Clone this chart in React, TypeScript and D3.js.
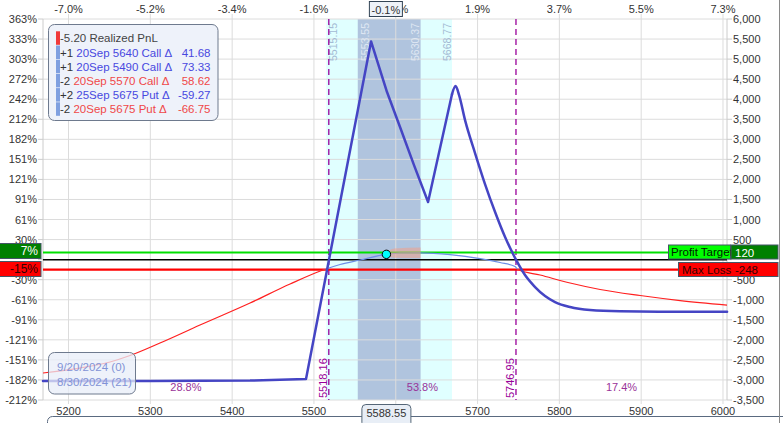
import React from 'react';
import * as d3 from 'd3';

const W = 783;
const H = 423;

// ---- data ----
const priceTicks = [5200, 5300, 5400, 5500, 5600, 5700, 5800, 5900, 6000];
const priceTickLabels = ['5200', '5300', '5400', '5500', '', '5700', '5800', '5900', '6000'];
const topTickLabels = ['-7.0%', '-5.2%', '-3.4%', '-1.6%', '0.1%', '1.9%', '3.7%', '5.5%', '7.3%'];
const pnlTicks = [-3500, -3000, -2500, -2000, -1500, -1000, -500, 0, 500, 1000, 1500, 2000, 2500, 3000, 3500, 4000, 4500, 5000, 5500, 6000];
const pnlTickLabels = ['-3,500', '-3,000', '-2,500', '-2,000', '-1,500', '-1,000', '-500', '', '500', '1,000', '1,500', '2,000', '2,500', '3,000', '3,500', '4,000', '4,500', '5,000', '5,500', '6,000'];
const pctTickLabels = ['-212%', '-182%', '-151%', '-121%', '-91%', '-61%', '-30%', '', '30%', '61%', '91%', '121%', '151%', '182%', '212%', '242%', '272%', '303%', '333%', '363%'];

// expiration P&L (9/20/2024): sharp part
const expPrices = [5168.8, 5299.6, 5421.9, 5490.3, 5569.8, 5589.3, 5605.2, 5622.3, 5639.5, 5668.8];
const expValues = [-3027, -3027, -3015, -2977, 5440, 4179, 3306, 2358, 1436, 4128];
// expiration P&L: smooth tail after the second peak
const expTailPrices = [5668.8, 5673.1, 5677.4, 5684.7, 5696.9, 5709.1, 5721.4, 5733.6, 5746.95, 5758.0, 5770.3, 5782.5, 5794.7, 5813.1, 5837.5, 5874.2, 5923.1, 6005];
const expTailValues = [4128, 4327, 4103, 3480, 2658, 1885, 1187, 564, 0, -384, -683, -907, -1057, -1182, -1257, -1289, -1297, -1297];

// T+21 P&L (8/30/2024)
const t21Prices = [5168.8, 5214.0, 5250.7, 5275.2, 5311.8, 5360.7, 5421.9, 5470.8, 5511.1, 5531.9, 5556.3, 5588.55, 5605.2, 5629.7, 5666.3, 5703.0, 5727.5, 5745.8, 5749.5, 5776.4, 5813.1, 5849.8, 5898.7, 5947.6, 6005];
const t21Values = [-2827, -2703, -2553, -2391, -2079, -1631, -1082, -608, -260, -122, -10, 132, 165, 170, 127, 27, -72, -172, -247, -384, -583, -745, -895, -1020, -1132];

const outerRange = [5515.15, 5668.77];
const innerRange = [5553.55, 5630.37];
const breakevens = [5518.16, 5746.95];
const probLabels = ['28.8%', '53.8%', '17.4%'];
const currentPrice = 5588.55;
const currentPnL = 132;
const currentPctLabel = '-0.1%';
const profitTargetLabel = '120';
const profitTargetPct = '7%';
const profitTargetLevel = 178;
const maxLoss = -248;
const maxLossPct = '-15%';

const bandPrices = [5588.55, 5598, 5630.37];
const bandLo = [100, 45, 40];
const bandHi = [185, 280, 300];

const legendQty = ['+1', '+1', '-2', '+2', '-2'];
const legendDesc = ['20Sep 5640 Call \u0394', '20Sep 5490 Call \u0394', '20Sep 5570 Call \u0394', '25Sep 5675 Put \u0394', '20Sep 5675 Put \u0394'];
const legendDelta = ['41.68', '73.33', '58.62', '-59.27', '-66.75'];
const realizedLabel = '-5.20 Realized PnL';
const dateLabels = ['9/20/2024 (0)', '8/30/2024 (21)'];

const FONT = 'Liberation Sans, Arial, sans-serif';

export default function App() {
  const left = 43, right = 727, top = 19, bottom = 400;
  const x = d3.scaleLinear().domain([5168.8, 6004.9]).range([left, right]);
  const y = d3.scaleLinear().domain([-3500, 6000]).range([bottom, top]);

  const expLine = d3.line<number>().x((_, i) => x(expPrices[i])).y((v) => y(v)).curve(d3.curveLinear);
  const expTail = d3.line<number>().x((_, i) => x(expTailPrices[i])).y((v) => y(v)).curve(d3.curveMonotoneX);
  const t21Line = d3.line<number>().x((_, i) => x(t21Prices[i])).y((v) => y(v)).curve(d3.curveMonotoneX);
  const band = d3.area<number>().x((_, i) => x(bandPrices[i])).y0((_, i) => y(bandLo[i])).y1((v) => y(v)).curve(d3.curveMonotoneX);

  const yML = y(maxLoss);
  const yPT = y(profitTargetLevel);
  const y0 = y(0);
  const cx = x(currentPrice);

  const probCenters = [
    (left + x(breakevens[0])) / 2,
    (x(breakevens[0]) + x(breakevens[1])) / 2,
    (x(breakevens[1]) + right) / 2,
  ];

  const rowY = (i: number) => 38.3 + i * 14.2;

  return (
    <svg width={W} height={H} style={{ position: 'absolute', left: 0, top: 0, fontFamily: FONT }}>
      <defs>
        <clipPath id="aboveML"><rect x={left} y={top} width={right - left} height={yML - top} /></clipPath>
        <clipPath id="belowML"><rect x={left} y={yML} width={right - left} height={bottom - yML} /></clipPath>
        <clipPath id="ptClip"><rect x={668} y={240} width={63} height={25} /></clipPath>
      </defs>
      <rect x={0} y={0} width={W} height={H} fill="#ffffff" />

      {/* shaded ranges */}
      <rect x={x(outerRange[0])} y={top} width={x(outerRange[1]) - x(outerRange[0])} height={bottom - top} fill="#e0ffff" />
      <rect x={x(innerRange[0])} y={top} width={x(innerRange[1]) - x(innerRange[0])} height={bottom - top} fill="#b0c4de" />

      {/* grid */}
      {pnlTicks.map((t) => (
        <line key={'h' + t} x1={left} x2={right} y1={y(t)} y2={y(t)} stroke="#dcdcdc" strokeWidth={1} />
      ))}
      {priceTicks.map((t) => (
        <line key={'v' + t} x1={x(t)} x2={x(t)} y1={14} y2={404} stroke="#dcdcdc" strokeWidth={1} />
      ))}
      <line x1={left} x2={left} y1={top} y2={bottom} stroke="#cccccc" />
      <line x1={right} x2={right} y1={top} y2={bottom} stroke="#cccccc" />
      {pnlTicks.map((t) => (
        <g key={'tk' + t}>
          <line x1={38} x2={left} y1={y(t)} y2={y(t)} stroke="#cccccc" />
          <line x1={right} x2={732} y1={y(t)} y2={y(t)} stroke="#cccccc" />
        </g>
      ))}

      {/* range labels */}
      <text transform={`translate(${x(outerRange[0]) + 7},23) rotate(-90)`} textAnchor="end" dominantBaseline="central" fontSize={10.5} fill="#a3bad4">{outerRange[0].toFixed(2)}</text>
      <text transform={`translate(${x(innerRange[0]) + 7.5},23) rotate(-90)`} textAnchor="end" dominantBaseline="central" fontSize={10.5} fill="#dfe7f3">{innerRange[0].toFixed(2)}</text>
      <text transform={`translate(${x(innerRange[1]) - 6},23) rotate(-90)`} textAnchor="end" dominantBaseline="central" fontSize={10.5} fill="#dfe7f3">{innerRange[1].toFixed(2)}</text>
      <text transform={`translate(${x(outerRange[1]) - 5.5},23) rotate(-90)`} textAnchor="end" dominantBaseline="central" fontSize={10.5} fill="#a3bad4">{outerRange[1].toFixed(2)}</text>

      {/* breakeven dashed lines */}
      {breakevens.map((b) => (
        <g key={'be' + b}>
          <line x1={x(b)} x2={x(b)} y1={top} y2={bottom} stroke="#990099" strokeWidth={1.3} strokeDasharray="6,4" />
          <text transform={`translate(${x(b) - 5.5},398) rotate(-90)`} textAnchor="start" dominantBaseline="central" fontSize={11} fill="#990099">{b.toFixed(2)}</text>
        </g>
      ))}
      {probLabels.map((p, i) => (
        <text key={'pl' + i} x={probCenters[i]} y={387} textAnchor="middle" dominantBaseline="central" fontSize={11} fill="#993399">{p}</text>
      ))}

      {/* horizontal reference lines */}
      <line x1={left} x2={right} y1={y0} y2={y0} stroke="#000000" strokeWidth={1.5} />
      <line x1={left} x2={668} y1={yPT} y2={yPT} stroke="#00e000" strokeWidth={2.2} />
      <line x1={left} x2={678} y1={yML} y2={yML} stroke="#ff0000" strokeWidth={2.2} />

      {/* T+21 curve */}
      <path d={t21Line(t21Values) || ''} fill="none" stroke="#6e8ee6" strokeWidth={1.2} clipPath="url(#aboveML)" />
      <path d={t21Line(t21Values) || ''} fill="none" stroke="#ff2020" strokeWidth={1.2} clipPath="url(#belowML)" />

      {/* salmon band */}
      <path d={band(bandHi) || ''} fill="#f0a08a" fillOpacity={0.55} />

      {/* expiration curve */}
      <path d={expLine(expValues) || ''} fill="none" stroke="#4545c4" strokeWidth={2.5} strokeLinejoin="round" strokeLinecap="round" />
      <path d={expTail(expTailValues) || ''} fill="none" stroke="#4545c4" strokeWidth={2.5} strokeLinejoin="round" strokeLinecap="round" />

      {/* current point */}
      <circle cx={cx} cy={y(currentPnL)} r={4.2} fill="#00ffff" stroke="#000000" strokeWidth={1} />

      {/* left axis labels */}
      {pnlTicks.map((t, i) => (
        <text key={'lp' + t} x={37} y={y(t)} textAnchor="end" dominantBaseline="central" fontSize={11} fill="#333333">{pctTickLabels[i]}</text>
      ))}
      {/* right axis labels */}
      {pnlTicks.map((t, i) => (
        <text key={'rp' + t} x={733} y={y(t)} textAnchor="start" dominantBaseline="central" fontSize={11} fill="#333333">{pnlTickLabels[i]}</text>
      ))}
      {/* top axis labels */}
      {priceTicks.map((t, i) => (
        <text key={'tp' + t} x={x(t)} y={9} textAnchor="middle" dominantBaseline="central" fontSize={11} fill="#333333">{topTickLabels[i]}</text>
      ))}
      {/* bottom axis labels */}
      {priceTicks.map((t, i) => (
        <text key={'bp' + t} x={x(t)} y={411} textAnchor="middle" dominantBaseline="central" fontSize={11} fill="#333333">{priceTickLabels[i]}</text>
      ))}

      {/* current price markers */}
      <rect x={cx - 17} y={1.5} width={33} height={15} fill="#eef2f8" stroke="#334455" strokeWidth={1} />
      <text x={cx - 0.5} y={9.5} textAnchor="middle" dominantBaseline="central" fontSize={11} fill="#333333">{currentPctLabel}</text>

      <rect x={47.5} y={416.5} width={745} height={20} rx={5} fill="none" stroke="#5a6a80" strokeWidth={1} />
      <rect x={cx - 24.5} y={404.5} width={49} height={22} rx={4} fill="#e8eef6" stroke="#556677" strokeWidth={1} />
      <text x={cx} y={413} textAnchor="middle" dominantBaseline="central" fontSize={11} fill="#333333">{currentPrice.toFixed(2)}</text>

      {/* left pct boxes */}
      <rect x={-1} y={243.5} width={42} height={15} fill="#008000" stroke="#445566" />
      <text x={38} y={251} textAnchor="end" dominantBaseline="central" fontSize={12} fill="#ffffff">{profitTargetPct}</text>
      <rect x={-1} y={261.5} width={42} height={15} fill="#ff0000" stroke="#445566" />
      <text x={38} y={269} textAnchor="end" dominantBaseline="central" fontSize={12} fill="#330000">{maxLossPct}</text>

      {/* right boxes */}
      <rect x={668.5} y={245} width={62} height={14} fill="#00ff00" stroke="#445566" />
      <text x={671} y={252} dominantBaseline="central" fontSize={11.5} fill="#002200" clipPath="url(#ptClip)">Profit Target</text>
      <rect x={731} y={245} width={47} height={14} fill="#008000" stroke="#445566" />
      <text x={735} y={252.5} dominantBaseline="central" fontSize={11.5} fill="#ffffff">{profitTargetLabel}</text>
      <rect x={678.5} y={262.5} width={99.5} height={14} fill="#ff0000" stroke="#445566" />
      <text x={682} y={270} dominantBaseline="central" fontSize={11.5} fill="#330000">Max Loss</text>
      <text x={735} y={270} dominantBaseline="central" fontSize={11.5} fill="#330000">{String(maxLoss)}</text>

      {/* right frame */}
      <line x1={779.5} x2={779.5} y1={0} y2={H} stroke="#8a8a8a" strokeWidth={1} />

      {/* legend */}
      <rect x={48.5} y={24.5} width={169.5} height={96} rx={6} fill="#eef2fa" stroke="#6e7a8e" strokeWidth={1} />
      <rect x={56} y={rowY(0) - 7} width={4} height={13.5} fill="#f03a3a" />
      <text x={60} y={rowY(0)} dominantBaseline="central" fontSize={11.5} fill="#444444">{realizedLabel}</text>
      {legendQty.map((q, i) => {
        const col = q.startsWith('+') ? '#4848e0' : '#f04848';
        const yy = rowY(i + 1);
        return (
          <g key={'lg' + i}>
            <rect x={56} y={yy - 7} width={4} height={13.5} fill="#7fa0e0" />
            <text x={60} y={yy} dominantBaseline="central" fontSize={11.5} fill="#333333">
              {q + ' '}
              <tspan fill={col}>{legendDesc[i]}</tspan>
            </text>
            <text x={210.5} y={yy} textAnchor="end" dominantBaseline="central" fontSize={11.5} fill={col}>{legendDelta[i]}</text>
          </g>
        );
      })}

      {/* date legend */}
      <rect x={48.5} y={352.5} width={87} height={41.5} rx={6} fill="#e8eef8" fillOpacity={0.75} stroke="#6e7a8e" strokeWidth={1} />
      {dateLabels.map((d, i) => (
        <text key={'dl' + i} x={57} y={366.7 + i * 15} dominantBaseline="central" fontSize={11.5} fill="#8292d6">{d}</text>
      ))}
    </svg>
  );
}
